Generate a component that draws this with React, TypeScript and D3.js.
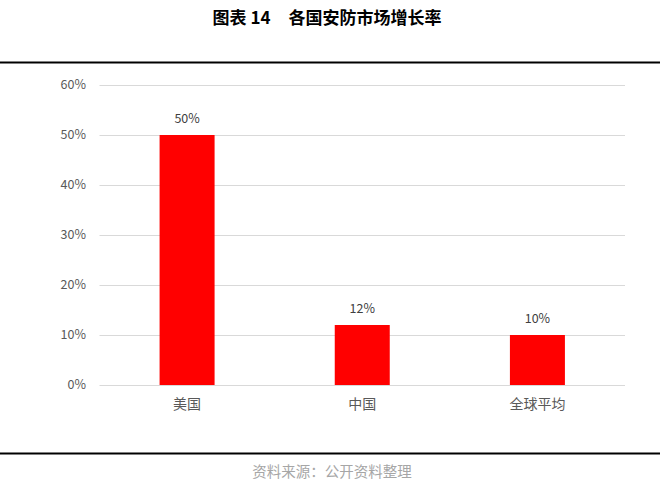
import React from "react";
import * as d3 from "d3";

const categories = ["美国", "中国", "全球平均"];
const values = [0.5, 0.12, 0.1];
const valueLabels = ["50%", "12%", "10%"];
const tickValues = [0, 0.1, 0.2, 0.3, 0.4, 0.5, 0.6];

const W = 660;
const H = 487;
const font = "'Noto Sans CJK SC', 'Noto Sans', sans-serif";

export default function App() {
  const x = d3.scaleBand<string>().domain(categories).range([99.5, 625]).paddingInner(0.686).paddingOuter(0.343);
  const y = d3.scaleLinear().domain([0, 0.6]).range([385, 85]);
  const fmt = d3.format(".0%");
  return (
    <svg width={W} height={H} style={{ position: "absolute", left: 0, top: 0, background: "#fff" }}>
      <text x={327} y={24} textAnchor="middle" fontFamily={font} fontSize={17} fontWeight="bold" fill="#000">
        <tspan>图表 14</tspan>
        <tspan dx={18}>各国安防市场增长率</tspan>
      </text>
      <rect x={0} y={61.5} width={W} height={2} fill="#000" />
      {tickValues.map((t) => (
        <g key={t}>
          <line x1={99.5} x2={625} y1={Math.round(y(t)) + 0.5} y2={Math.round(y(t)) + 0.5} stroke="#d9d9d9" strokeWidth={1} />
          <text x={86} y={y(t) + 4} textAnchor="end" fontFamily={font} fontSize={12.5} fill="#595959">
            {fmt(t)}
          </text>
        </g>
      ))}
      {categories.map((c, i) => (
        <g key={c}>
          <rect x={x(c)} y={y(values[i])} width={x.bandwidth()} height={y(0) - y(values[i])} fill="#ff0000" />
          <text x={x(c)! + x.bandwidth() / 2} y={y(values[i]) - 12} textAnchor="middle" fontFamily={font} fontSize={12.5} fill="#404040">
            {valueLabels[i]}
          </text>
          <text x={x(c)! + x.bandwidth() / 2} y={409} textAnchor="middle" fontFamily={font} fontSize={14} fill="#595959">
            {c}
          </text>
        </g>
      ))}
      <rect x={0} y={452.5} width={W} height={2} fill="#000" />
      <text x={332} y={477} textAnchor="middle" fontFamily={font} fontSize={14.5} fill="#a6a6a6">
        资料来源：公开资料整理
      </text>
    </svg>
  );
}
